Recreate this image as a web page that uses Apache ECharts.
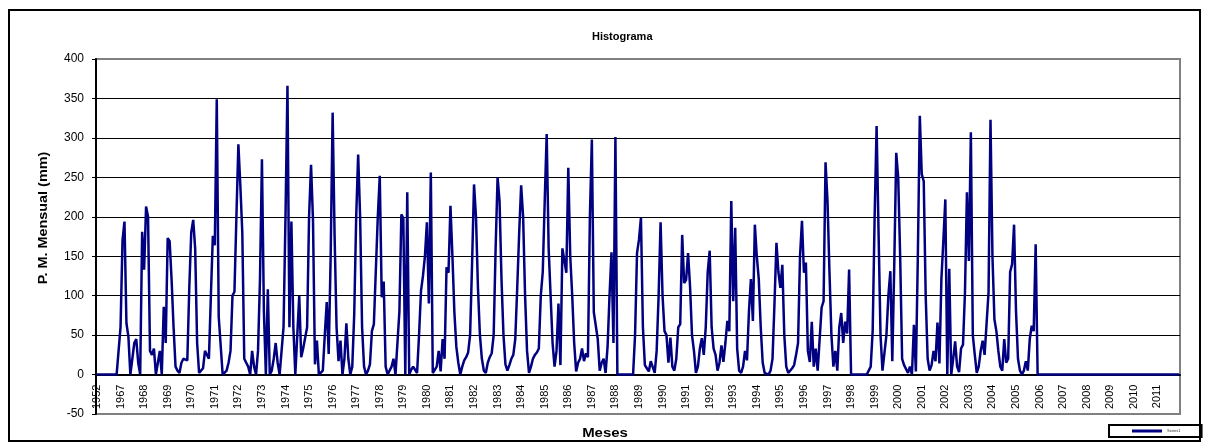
<!DOCTYPE html>
<html>
<head>
<meta charset="utf-8">
<title>Histograma</title>
<script src="https://cdn.jsdelivr.net/npm/echarts@6/dist/echarts.min.js"></script>
<style>
  html, body { margin: 0; padding: 0; background: #fff; }
  #marco { position: absolute; left: 8px; top: 9px; width: 1189px; height: 429px; border: 2px solid #000; }
  #chart { position: absolute; left: 0; top: 0; width: 1208px; height: 443px; }
</style>
</head>
<body>
<div id="marco"></div>
<div id="chart"></div>
<script>
// etiquetas del eje X (una cada 12 meses)
const etiquetasAnio = [
  "1952", "1967", "1968", "1969", "1970", "1971", "1972", "1973", "1974", "1975",
  "1976", "1977", "1978", "1979", "1980", "1981", "1982", "1983", "1984", "1985",
  "1986", "1987", "1988", "1989", "1990", "1991", "1992", "1993", "1994", "1995",
  "1996", "1997", "1998", "1999", "2000", "2001", "2002", "2003", "2004", "2005",
  "2006", "2007", "2008", "2009", "2010", "2011",
];

// precipitacion mensual (mm), 12 valores por etiqueta
const precipitacion = [
  0, 0, 0, 0, 0, 0, 0, 0, 0, 0, 0, 0,
  60, 170, 194, 65, 48, 0, 0, 40, 45, 15, 0, 181,
  133, 213, 200, 30, 25, 33, 0, 15, 30, 0, 86, 40,
  173, 169, 120, 60, 10, 5, 2, 15, 20, 22, 18, 110,
  180, 196, 160, 40, 2, 0, 8, 30, 32, 20, 100, 176,
  164, 349, 73, 71, 0, 2, 5, 15, 30, 100, 105, 200,
  292, 240, 180, 20, 15, 10, 0, 30, 10, 0, 30, 120,
  273, 80, 0, 108, 0, 5, 20, 40, 15, 0, 30, 60,
  200, 366, 60, 194, 60, 0, 0, 100, 22, 33, 33, 60,
  200, 266, 196, 13, 43, 0, 0, 5, 50, 92, 26, 150,
  332, 176, 60, 17, 43, 0, 20, 65, 20, 0, 10, 77,
  200, 279, 200, 60, 10, 0, 5, 13, 55, 64, 64, 200,
  252, 98, 118, 10, 0, 0, 10, 20, 0, 40, 80, 203,
  198, 0, 231, 0, 6, 10, 12, 2, 50, 106, 125, 150,
  193, 90, 256, 2, 0, 10, 30, 4, 45, 20, 136, 129,
  214, 150, 79, 35, 15, 0, 10, 18, 22, 28, 50, 140,
  241, 200, 110, 50, 20, 5, 2, 15, 22, 27, 50, 160,
  250, 220, 120, 50, 13, 5, 12, 20, 25, 45, 110, 180,
  240, 200, 100, 30, 2, 10, 20, 25, 28, 33, 100, 130,
  220, 305, 160, 100, 40, 10, 30, 90, 12, 160, 162, 129,
  262, 150, 100, 40, 4, 15, 20, 33, 17, 27, 22, 200,
  298, 79, 80, 45, 5, 15, 20, 2, 35, 100, 155, 40,
  301, 0, 0, 0, 0, 0, 0, 0, 0, 0, 50, 154,
  171, 199, 60, 12, 8, 4, 17, 18, 2, 30, 100, 193,
  100, 55, 50, 15, 47, 10, 5, 20, 60, 64, 177, 116,
  120, 154, 112, 50, 30, 2, 10, 33, 46, 25, 60, 130,
  157, 60, 33, 25, 5, 15, 37, 16, 40, 68, 55, 220,
  93, 186, 33, 5, 2, 10, 30, 18, 80, 121, 68, 190,
  150, 121, 60, 15, 2, 0, 0, 5, 20, 90, 167, 130,
  110, 139, 50, 10, 2, 3, 8, 12, 25, 40, 150, 195,
  129, 142, 30, 16, 67, 10, 33, 5, 45, 85, 93, 269,
  220, 130, 50, 10, 30, 5, 60, 78, 40, 67, 52, 133,
  0, 0, 0, 0, 0, 0, 0, 0, 0, 0, 10, 55,
  200, 315, 180, 50, 5, 5, 50, 100, 131, 17, 140, 281,
  250, 150, 20, 12, 14, 2, 10, 0, 63, 4, 150, 328,
  254, 245, 100, 20, 5, 12, 30, 17, 66, 14, 121, 170,
  222, 0, 134, 0, 20, 42, 10, 3, 33, 38, 104, 231,
  144, 307, 50, 25, 2, 10, 30, 43, 25, 27, 104, 323,
  150, 70, 55, 30, 10, 5, 45, 15, 20, 130, 140, 190,
  80, 20, 5, 0, 5, 17, 5, 45, 62, 55, 165, 0,
  0, 0, 0, 0, 0, 0, 0, 0, 0, 0, 0, 0,
  0, 0, 0, 0, 0, 0, 0, 0, 0, 0, 0, 0,
  0, 0, 0, 0, 0, 0, 0, 0, 0, 0, 0, 0,
  0, 0, 0, 0, 0, 0, 0, 0, 0, 0, 0, 0,
  0, 0, 0, 0, 0, 0, 0, 0, 0, 0, 0, 0,
  0, 0, 0, 0, 0, 0, 0, 0, 0, 0, 0, 0,
];

const yMin = -50;
const yMax = 400;
const yPaso = 50;

const meses = [];
etiquetasAnio.forEach((anio) => {
  for (let m = 1; m <= 12; m++) meses.push(anio + "|" + m);
});

const fuente = "'Liberation Sans', Arial, sans-serif";
const chart = echarts.init(document.getElementById("chart"));

// el eje X cruza en 0: se sube desde el borde inferior del grid
const gridTop = 59;
const gridAlto = 355;
const desplazamientoCero = -(gridAlto * (0 - yMin)) / (yMax - yMin);

// lineas de division: bordes grises, interiores negras
const coloresDivision = [];
for (let v = yMin; v <= yMax; v += yPaso) {
  coloresDivision.push(v === yMin || v === yMax ? "#808080" : "#000");
}

chart.setOption({
  animation: false,
  textStyle: { fontFamily: fuente },
  title: {
    text: "Histograma",
    left: 587,
    top: 26,
    textStyle: { fontSize: 11, fontWeight: "bold", color: "#000", fontFamily: fuente },
  },
  grid: {
    left: 96,
    top: gridTop,
    right: 28,
    height: gridAlto,
    outerBoundsMode: "none",
    containLabel: false,
    show: true,
    borderColor: "#808080",
    borderWidth: 2,
  },
  legend: {
    left: 1109,
    top: 425,
    padding: [4, 21, 4, 23],
    borderColor: "#000",
    borderWidth: 2,
    icon: "rect",
    itemWidth: 30,
    itemHeight: 3,
    itemGap: 5,
    textStyle: { fontSize: 4, color: "#333", fontFamily: fuente },
    data: ["Series1"],
  },
  xAxis: {
    type: "category",
    data: meses,
    boundaryGap: true,
    position: "bottom",
    offset: desplazamientoCero,
    axisLine: { onZero: false, lineStyle: { color: "#000", width: 2 } },
    axisTick: { interval: 0, length: 3, lineStyle: { color: "#000", width: 1 } },
    axisLabel: {
      interval: 11,
      rotate: 90,
      margin: 10,
      fontSize: 11,
      color: "#000",
      fontFamily: fuente,
      formatter: (v) => v.split("|")[0],
    },
    splitLine: { show: false },
  },
  yAxis: {
    type: "value",
    min: yMin,
    max: yMax,
    interval: yPaso,
    axisLine: { show: true, lineStyle: { color: "#000", width: 2 } },
    axisTick: { show: true, length: 4, lineStyle: { color: "#000" } },
    axisLabel: { fontSize: 12, color: "#000", margin: 12, fontFamily: fuente },
    splitLine: { show: true, lineStyle: { color: coloresDivision, width: 1 } },
  },
  graphic: [
    {
      type: "text",
      x: 44,
      y: 218,
      rotation: Math.PI / 2,
      scaleX: 1.2,
      style: {
        text: "P. M. Mensual (mm)",
        font: "bold 12px " + fuente,
        fill: "#000",
        align: "center",
        verticalAlign: "middle",
      },
    },
    {
      type: "text",
      x: 605,
      y: 433,
      scaleX: 1.15,
      style: {
        text: "Meses",
        font: "bold 13px " + fuente,
        fill: "#000",
        align: "center",
        verticalAlign: "middle",
      },
    },
  ],
  series: [
    {
      name: "Series1",
      type: "line",
      data: precipitacion,
      showSymbol: false,
      symbol: "none",
      lineStyle: { color: "#000080", width: 2.5 },
      itemStyle: { color: "#000080" },
    },
  ],
});
</script>
</body>
</html>
